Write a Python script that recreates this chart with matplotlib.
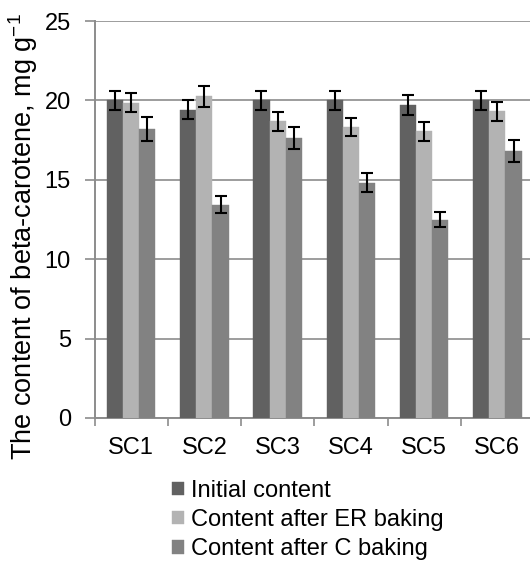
import matplotlib
matplotlib.use("Agg")
import matplotlib.pyplot as plt
import numpy as np

categories = ["SC1", "SC2", "SC3", "SC4", "SC5", "SC6"]
series_names = ["Initial content", "Content after ER baking", "Content after C baking"]
initial = [20.0, 19.4, 20.0, 20.0, 19.7, 20.0]
initial_err = [0.58, 0.6, 0.58, 0.58, 0.61, 0.58]
er_baking = [19.85, 20.27, 18.7, 18.32, 18.05, 19.31]
er_err = [0.6, 0.66, 0.6, 0.59, 0.6, 0.62]
c_baking = [18.19, 13.42, 17.62, 14.81, 12.5, 16.82]
c_err = [0.74, 0.54, 0.7, 0.59, 0.5, 0.69]
yticks = [0, 5, 10, 15, 20, 25]
ylabel = "The content of beta-carotene, mg g$^{-1}$"

colors = ["#616161", "#b3b3b3", "#828282"]
grid_col = "#8c8c8c"

plt.rcParams["font.family"] = ["Liberation Sans", "DejaVu Sans"]
plt.rcParams["mathtext.fontset"] = "custom"
plt.rcParams["mathtext.rm"] = "Liberation Sans"
plt.rcParams["mathtext.it"] = "Liberation Sans"
plt.rcParams["mathtext.default"] = "regular"

W, H = 530, 562
fig = plt.figure(figsize=(W / 100, H / 100), dpi=100)
ax = fig.add_axes([94.5 / W, 1 - 418 / H, (534 - 94.5) / W, (418 - 21) / H])

n = len(categories)
x = np.arange(n)
bw = 0.221
data = [(initial, initial_err), (er_baking, er_err), (c_baking, c_err)]
for i, ((vals, errs), col, name) in enumerate(zip(data, colors, series_names)):
    ax.bar(x + (i - 1) * bw, vals, width=bw, color=col, label=name, zorder=3,
           edgecolor=col, linewidth=0.3)
    ax.errorbar(x + (i - 1) * bw, vals, yerr=errs, fmt="none", ecolor="black",
                elinewidth=1.5, capsize=4.5, capthick=1.5, zorder=4)

ax.set_xlim(-0.5, n - 0.5)
ax.set_ylim(0, 25)
ax.set_yticks(yticks)
ax.yaxis.grid(True, color=grid_col, linewidth=1.2, zorder=0)
ax.set_axisbelow(True)

ax.set_xticks(x)
ax.set_xticklabels(categories)
ax.set_xticks(np.arange(n + 1) - 0.5, minor=True)
ax.tick_params(axis="x", which="major", length=0, pad=14, labelsize=17)
ax.tick_params(axis="x", which="minor", length=6, width=1.2, color=grid_col, direction="out")
ax.tick_params(axis="y", length=7, width=1.2, color=grid_col, direction="out", pad=10, labelsize=17)

for s in ["top", "right"]:
    ax.spines[s].set_visible(False)
for s in ["left", "bottom"]:
    ax.spines[s].set_color(grid_col)
    ax.spines[s].set_linewidth(1.4)

ax.set_ylabel(ylabel, fontsize=19.5)
ax.yaxis.set_label_coords(-54 / (534 - 94.5), 0.458)

fig.legend(loc="upper left", bbox_to_anchor=(172 / W, 1 - 480 / H), frameon=False,
           fontsize=17, handlelength=0.5, handleheight=0.5, handletextpad=0.3,
           labelspacing=0.3, borderpad=0, borderaxespad=0)

fig.savefig("out.png", dpi=100)
